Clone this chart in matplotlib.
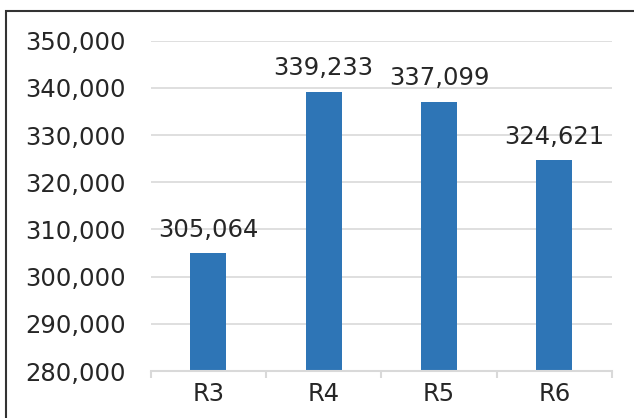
import numpy as np
import matplotlib.pyplot as plt
from matplotlib.patches import Rectangle

categories = ['R3', 'R4', 'R5', 'R6']
values = [305064, 339233, 337099, 324621]
yticks = [280000, 290000, 300000, 310000, 320000, 330000, 340000, 350000]

plt.rcParams['font.family'] = ['DejaVu Sans']
text_color = '#262626'
grid_color = '#d9d9d9'
fs = 17.5

fig = plt.figure(figsize=(6.34, 4.18), dpi=100)
ax = fig.add_axes([0.2377, 0.1124, 0.9653 - 0.2377, 0.9026 - 0.1124])

x = np.arange(len(categories))
ax.bar(x, values, width=0.31, color='#2e75b6', zorder=3)

for xi, v in zip(x, values):
    ax.annotate(f'{v:,}', (xi, v), xytext=(0, 8), textcoords='offset points',
                ha='center', va='bottom', fontsize=fs, color=text_color)

ax.set_xlim(-0.5, len(categories) - 0.5)
ax.set_ylim(280000, 350000)
ax.set_yticks(yticks)
ax.set_yticklabels([f'{t:,}' for t in yticks])
ax.set_xticks(x)
ax.set_xticklabels(categories)
ax.set_xticks(np.arange(len(categories) + 1) - 0.5, minor=True)

ax.yaxis.grid(True, color=grid_color, linewidth=1.2, zorder=0)
for s in ['top', 'right', 'left']:
    ax.spines[s].set_visible(False)
ax.spines['bottom'].set_color(grid_color)
ax.spines['bottom'].set_linewidth(1.5)
ax.spines['bottom'].set_zorder(4)

ax.tick_params(axis='y', length=0, pad=18, labelsize=fs, labelcolor=text_color)
ax.tick_params(axis='x', which='major', length=0, pad=8, labelsize=fs, labelcolor=text_color)
ax.tick_params(axis='x', which='minor', length=5, width=1.5, color=grid_color)

# outer frame (only left and top edges fall inside the image)
fig.patches.append(Rectangle((5.5 / 634, -10 / 418), 700 / 634, (407 + 10) / 418,
                             transform=fig.transFigure, fill=False,
                             edgecolor='#333333', linewidth=1.5))

fig.savefig('out.png', dpi=100)
